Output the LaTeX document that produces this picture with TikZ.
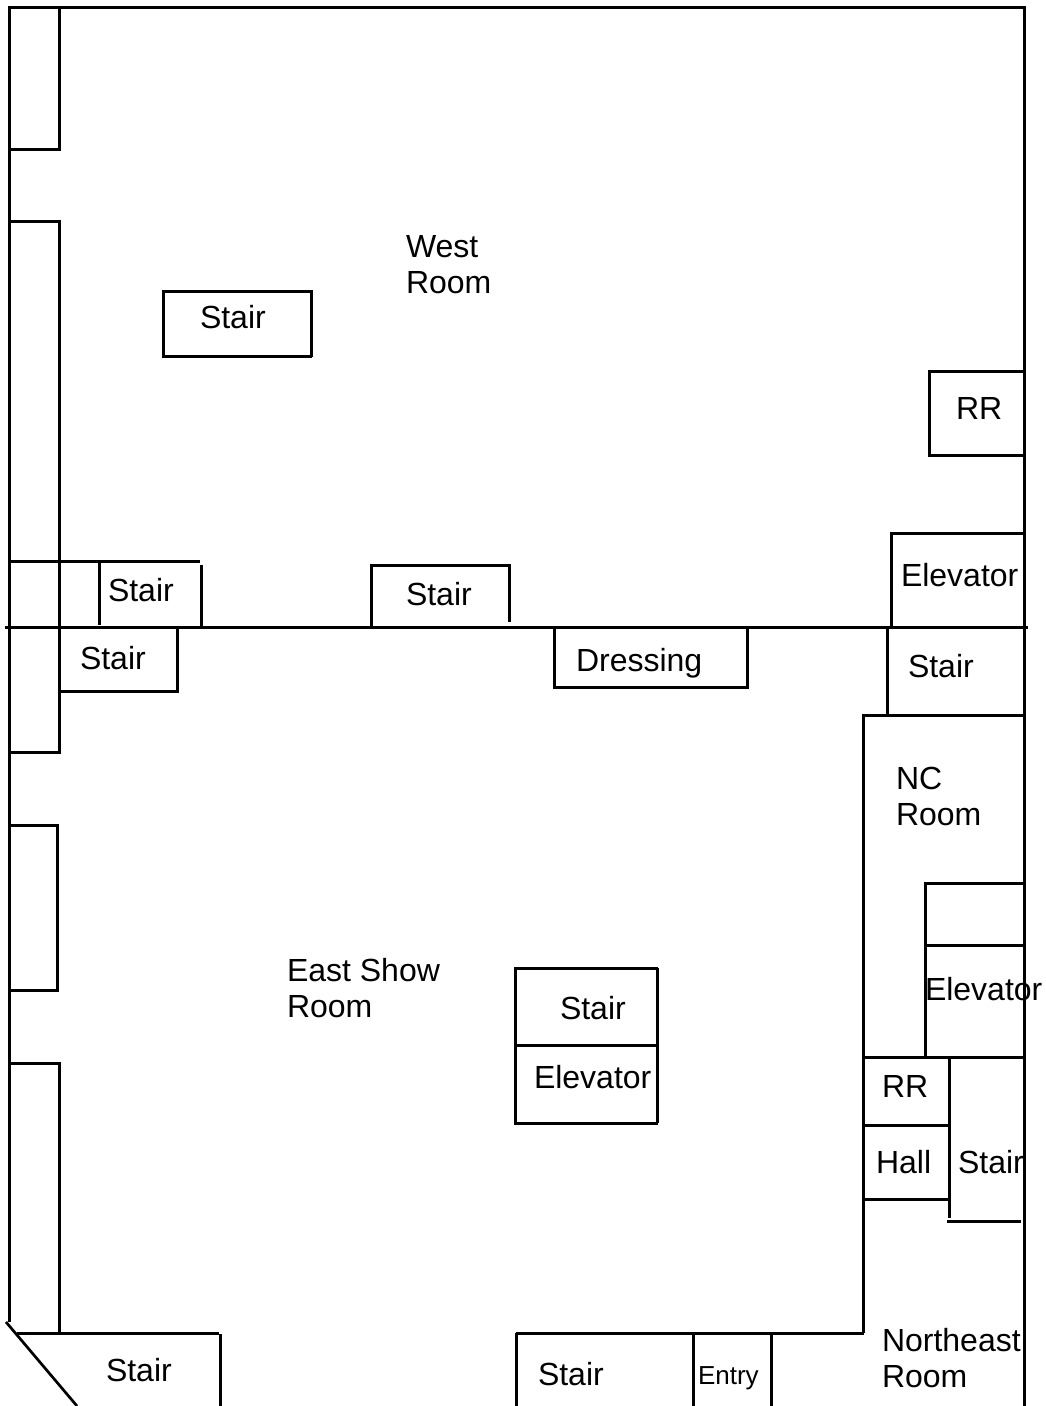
\documentclass[tikz,border=0pt]{standalone}
\usepackage{fontspec}
\setmainfont{Liberation Sans}
\tikzset{
  wall/.style={line width=3pt,line cap=butt,black},
  slant/.style={line width=2.7pt,line cap=butt,black},
  lbl/.style={anchor=base west,inner sep=0pt,outer sep=0pt,align=left,text=black,font=\fontsize{32}{36}\selectfont},
  small/.style={lbl,font=\fontsize{26}{30}\selectfont}
}
\begin{document}
\begin{tikzpicture}[x=1pt,y=-1pt]
\useasboundingbox[fill=white] (0,0) rectangle (1045,1406);
% outer walls
\draw[wall] (9,1322)--(9,7)--(1024,7)--(1024,1406);
\draw[wall] (5,627)--(1028,627);
% west windows
\draw[wall] (59,7)--(59,149)--(10,149);
\draw[wall] (9,221)--(59,221)--(59,752)--(9,752);
\draw[wall] (9,825)--(57,825)--(57,990)--(9,990);
\draw[wall] (9,1063)--(59,1063)--(59,1333);
% bottom-left stair
\draw[slant] (6,1322)--(77,1406);
\draw[wall] (17,1333)--(219,1333);
\draw[wall] (220,1334)--(220,1406);
% stairs at the west end of the dividing wall
\draw[wall] (9,561)--(200,561);
\draw[wall] (99,561)--(99,625);
\draw[wall] (201,565)--(201,627);
\draw[wall] (177,627)--(177,691)--(58,691);
% west room stair
\draw[wall] (163,290)--(163,357);
\draw[wall] (162,291)--(312,291);
\draw[wall] (311,290)--(311,357);
\draw[wall] (162,356)--(312,356);
% middle stair and dressing
\draw[wall] (371,627)--(371,565)--(509,565)--(509,622);
\draw[wall] (554,627)--(554,687)--(747,687)--(747,627);
% restroom
\draw[wall] (1024,371)--(929,371)--(929,455)--(1024,455);
% east side
\draw[wall] (891,627)--(891,533)--(1024,533);
\draw[wall] (887,627)--(887,714);
\draw[wall] (862,715)--(1024,715);
\draw[wall] (863,715)--(863,1333);
\draw[wall] (925,1057)--(925,882);
\draw[wall] (925,883)--(1024,883);
\draw[wall] (926,945)--(1024,945);
\draw[wall] (864,1057)--(1024,1057);
\draw[wall] (949,1057)--(949,1218);
\draw[wall] (864,1125)--(948,1125);
\draw[wall] (864,1199)--(949,1199);
\draw[wall] (947,1221)--(1021,1221);
% center core
\draw[wall] (515,968)--(515,1123);
\draw[wall] (514,968)--(658,968);
\draw[wall] (657,968)--(657,1123);
\draw[wall] (515,1045)--(656,1045);
\draw[wall] (514,1123)--(658,1123);
% bottom
\draw[wall] (516,1333)--(864,1333);
\draw[wall] (516,1333)--(516,1406);
\draw[wall] (693,1335)--(693,1406);
\draw[wall] (771,1335)--(771,1406);
% labels
\node[lbl] (westroom) at (406,293) {West\\Room};
\node[lbl] (stairA) at (200,328) {Stair};
\node[lbl] (rrA) at (956,419) {RR};
\node[lbl] (elevA) at (901,586) {Elevator};
\node[lbl] (stairB) at (108,601) {Stair};
\node[lbl] (stairC) at (406,605) {Stair};
\node[lbl] (stairD) at (80,669) {Stair};
\node[lbl] (dressing) at (576,671) {Dressing};
\node[lbl] (stairE) at (908,677) {Stair};
\node[lbl] (ncroom) at (896,825) {NC\\Room};
\node[lbl] (eastroom) at (287,1017) {East Show\\Room};
\node[lbl] (stairF) at (560,1019) {Stair};
\node[lbl] (elevB) at (534,1088) {Elevator};
\node[lbl] (elevC) at (925,1000) {Elevator};
\node[lbl] (rrB) at (882,1097) {RR};
\node[lbl] (hall) at (876,1173) {Hall};
\node[lbl] (stairG) at (958,1173) {Stair};
\node[lbl] (stairH) at (106,1381) {Stair};
\node[lbl] (stairI) at (538,1385) {Stair};
\node[small] (entry) at (698,1384) {Entry};
\node[lbl] (neroom) at (882,1387) {Northeast\\Room};
\end{tikzpicture}
\end{document}
